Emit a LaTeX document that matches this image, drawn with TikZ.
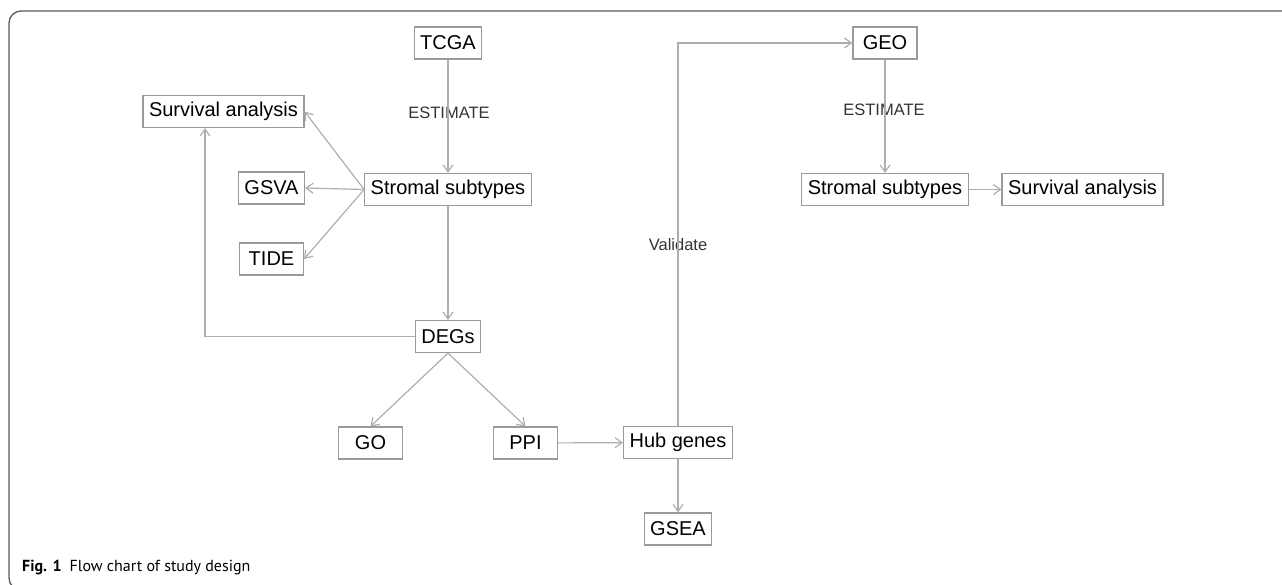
\documentclass[tikz,border=0pt]{standalone}
\usepackage{fontspec}
\setmainfont{Liberation Sans}
\newfontfamily\capfont{PT Sans}
\usetikzlibrary{arrows.meta}

\definecolor{boxgray}{HTML}{9A9A9A}
\definecolor{linkgray}{HTML}{AEAEAE}
\definecolor{framegray}{HTML}{5A5A5A}

\tikzset{
  box/.style={draw=boxgray, line width=1.2pt, minimum width=64pt, minimum height=32pt,
    inner xsep=6pt, inner ysep=0pt, font=\fontsize{20}{24}\selectfont},
  link/.style={draw=linkgray, line width=1.2pt, -{Straight Barb[length=7pt,width=10pt]}},
  tag/.style={font=\fontsize{16.5}{20}\selectfont, text=black!80, inner sep=0pt}
}

\begin{document}
\begin{tikzpicture}[x=1pt, y=-1pt]
  \useasboundingbox (0,0) rectangle (1282,584);

  % frame
  \draw[framegray, line width=1.3pt, rounded corners=12pt] (9,11) rectangle (1330,590);

  % TCGA branch
  \node[box] (tcga) at (448,43) {TCGA};
  \node[box] (strom1) at (448,189.5) {Stromal subtypes};
  \node[box] (surv1) at (223.5,111.5) {Survival analysis};
  \node[box] (gsva) at (271.5,188) {GSVA};
  \node[box] (tide) at (271.5,259) {TIDE};
  \node[box] (degs) at (448,336.5) {DEGs};
  \node[box] (go) at (370.5,443) {GO};
  \node[box] (ppi) at (525.5,443) {PPI};
  \node[box] (hub) at (678,442.5) {Hub genes};
  \node[box] (gsea) at (678,529) {GSEA};

  % GEO branch
  \node[box] (geo) at (885,43) {GEO};
  \node[box] (strom2) at (885,189.5) {Stromal subtypes};
  \node[box] (surv2) at (1082.5,189.5) {Survival analysis};

  % labels on the lines
  \node[tag] (est1) at (449,113) {ESTIMATE};
  \node[tag] (est2) at (884,110) {ESTIMATE};
  \node[tag] (valid) at (678,245) {Validate};

  % connectors
  \draw[link] (tcga) -- (strom1);
  \draw[link] (strom1.west) -- (surv1.east);
  \draw[link] (strom1.west) -- (gsva.east);
  \draw[link] (strom1.west) -- (tide.east);
  \draw[link] (strom1) -- (degs);
  \coordinate (bend) at (205,336.5);
  \draw[link] (degs.west) -- (bend) -- (bend |- surv1.south);
  \draw[link] (degs.south) -- (go.north);
  \draw[link] (degs.south) -- (ppi.north);
  \draw[link] (ppi) -- (hub);
  \draw[link] (hub) -- (gsea);
  \draw[link] (hub.north) |- (geo.west);
  \draw[link] (geo) -- (strom2);
  \draw[link] (strom2) -- (surv2);

  % caption
  \node[anchor=base west, inner sep=0pt, font=\capfont\fontsize{16}{19}\selectfont] (cap) at (22,571)
    {\textbf{Fig. 1}\hspace{8pt}Flow chart of study design};
\end{tikzpicture}
\end{document}
